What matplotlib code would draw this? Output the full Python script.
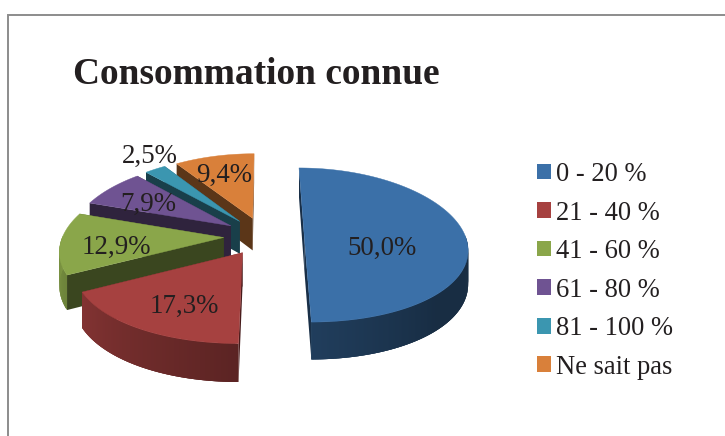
import numpy as np
import matplotlib
matplotlib.use('Agg')
import matplotlib.pyplot as plt
from matplotlib.patches import Polygon, Patch

title = "Consommation connue"
categories = ["0 - 20 %", "21 - 40 %", "41 - 60 %", "61 - 80 %", "81 - 100 %", "Ne sait pas"]
values = [50.0, 17.3, 12.9, 7.9, 2.5, 9.4]
value_labels = ["50,0%", "17,3%", "12,9%", "7,9%", "2,5%", "9,4%"]
colors = ["#3b70a8", "#a64140", "#8aa64a", "#6f5392", "#3b96b0", "#d9803a"]

# pixel geometry of the tilted pie, measured on the reference
CX, CY = 264, 236
RX, RY = 161, 76
PERSPECTIVE_X = 0.15
PERSPECTIVE_Y = 0.117
DEPTH = 33
EXPLODE = 0.25
TEXT_COLOR = "#231f20"

plt.rcParams['font.family'] = ['Liberation Serif', 'DejaVu Serif']


def project(x, y, z=0.0):
    """Ground plane coords (unit radius) to pixels, z is 0 on top and 1 at the bottom"""
    sx = 1 / (1 + PERSPECTIVE_X * y)
    sy = 1 / (1 + PERSPECTIVE_Y * y)
    return CX + RX * x * sx, CY - RY * y * sy + DEPTH * z * sy


def rim_shade(angle):
    """How dark the outer rim gets, following the angle of the light"""
    return np.interp(angle, [-270, -180, -150, -90, -45, 90], [0.9, 0.9, 0.78, 0.55, 0.4, 0.4])


def shaded(color, factor):
    return tuple(c * factor for c in matplotlib.colors.to_rgb(color))


def draw_wedge(ax, a0, a1, color):
    """Draws one exploded slice going from angle a0 down to a1 (degrees)"""
    mid = np.radians((a0 + a1) / 2)
    ox, oy = EXPLODE * np.cos(mid), EXPLODE * np.sin(mid)
    angles = np.linspace(a0, a1, max(int(abs(a1 - a0)) * 2, 4))
    xs = ox + np.cos(np.radians(angles))
    ys = oy + np.sin(np.radians(angles))

    # the two cut faces
    dark = shaded(color, 0.42)
    for px, py in [(xs[0], ys[0]), (xs[-1], ys[-1])]:
        face = [project(ox, oy), project(px, py), project(px, py, 1), project(ox, oy, 1)]
        ax.add_patch(Polygon(face, facecolor=dark, edgecolor='none'))

    # outer rim, only the front half shows
    # strips overlap the next one so no seams show
    for i in range(len(angles) - 1):
        if np.sin(np.radians(angles[i])) > 0 and np.sin(np.radians(angles[i + 1])) > 0:
            continue
        c = shaded(color, rim_shade((angles[i] + angles[i + 1]) / 2))
        j = min(i + 3, len(angles) - 1)
        strip = [project(xs[i], ys[i]), project(xs[j], ys[j]),
                 project(xs[j], ys[j], 1), project(xs[i], ys[i], 1)]
        ax.add_patch(Polygon(strip, facecolor=c, edgecolor='none'))

    # top
    top = [project(ox, oy)] + [project(x, y) for x, y in zip(xs, ys)]
    ax.add_patch(Polygon(top, facecolor=color, edgecolor=color, lw=0.3))


fig = plt.figure(figsize=(7.25, 4.36), dpi=100)
ax = fig.add_axes([0, 0, 1, 1])
ax.set_xlim(0, 725)
ax.set_ylim(436, 0)
ax.axis('off')

# chart frame, only the left and top sides are in the crop
ax.plot([8.5, 8.5, 725], [436, 15, 15], color="#8c8c8c", lw=1.4, solid_joinstyle='miter')

ax.text(73, 75, title, fontsize=26.9, fontweight='bold', color=TEXT_COLOR, ha='left', va='center')

# slices run clockwise from the top
edges = 90 - np.cumsum([0] + values) * 3.6
for i in [5, 4, 3, 2, 1, 0]:
    draw_wedge(ax, edges[i], edges[i + 1], colors[i])

label_xy = [(382, 248), (184, 306), (116, 247), (148, 204), (150, 156), (224, 175)]
for text, (x, y) in zip(value_labels, label_xy):
    ax.text(x, y, text, fontsize=19.4, color=TEXT_COLOR, ha='center', va='center')

handles = [Patch(facecolor=c, edgecolor='none', label=n) for c, n in zip(colors, categories)]
ax.legend(handles=handles, loc='upper left', bbox_to_anchor=(537 / 725, 1 - 162 / 436),
          frameon=False, fontsize=19.1, labelcolor=TEXT_COLOR, handlelength=0.53, handleheight=0.53,
          handletextpad=0.2, labelspacing=0.51, borderpad=0, borderaxespad=0)

fig.savefig("out.png", dpi=100)
